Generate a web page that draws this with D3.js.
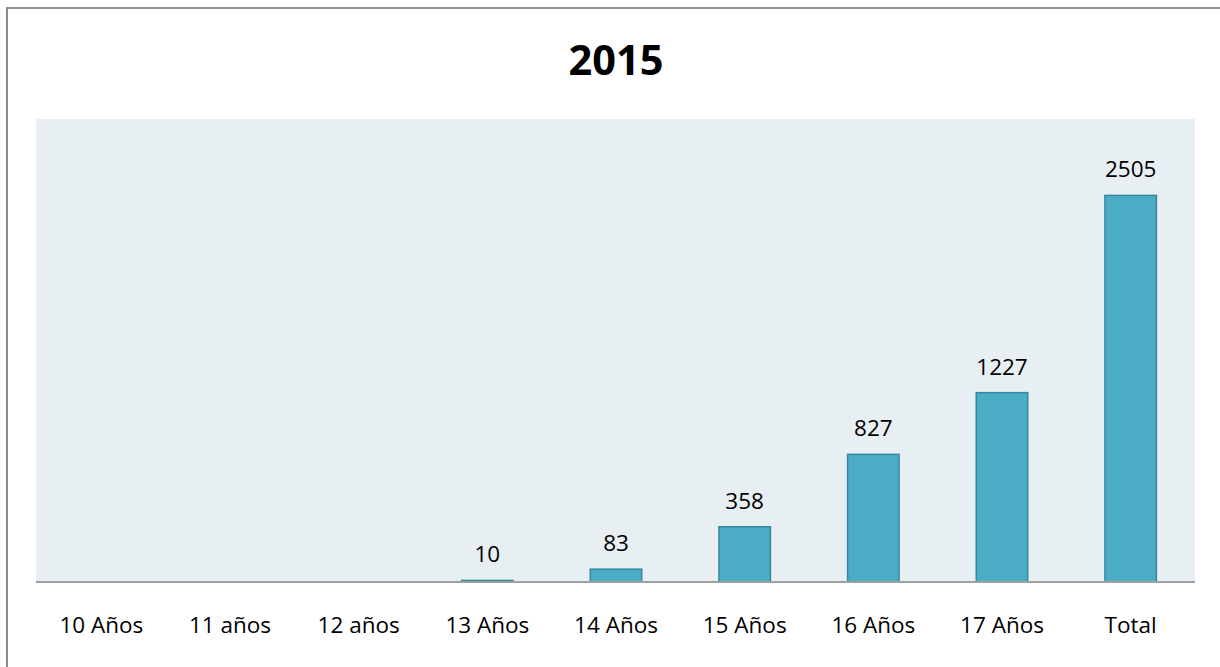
<!DOCTYPE html>
<html>
<head>
<meta charset="utf-8">
<script src="https://cdn.jsdelivr.net/npm/d3@7"></script>
<style>
  html, body { margin: 0; padding: 0; background: #fff; }
  svg { display: block; }
</style>
</head>
<body>
<svg id="chart" width="1220" height="667"></svg>
<script>
const categories = ["10 Años", "11 años", "12 años", "13 Años", "14 Años", "15 Años", "16 Años", "17 Años", "Total"];
const values = [null, null, null, 10, 83, 358, 827, 1227, 2505];
const title = "2015";
const yMax = 3000;

const svg = d3.select("#chart");
const font = "'Open Sans', 'Noto Sans', sans-serif";

// outer frame
svg.append("rect")
  .attr("x", 7).attr("y", 8)
  .attr("width", 1240).attr("height", 700)
  .attr("fill", "none")
  .attr("stroke", "#8c8c8c")
  .attr("stroke-width", 2);

const plot = { left: 36, right: 1195, top: 119, bottom: 582 };

svg.append("rect")
  .attr("x", plot.left).attr("y", plot.top)
  .attr("width", plot.right - plot.left)
  .attr("height", plot.bottom - plot.top)
  .attr("fill", "#E8EFF3");

const x = d3.scaleBand()
  .domain(categories)
  .range([plot.left + 1, plot.right])
  .paddingInner(0.6)
  .paddingOuter(0.3);

const y = d3.scaleLinear()
  .domain([0, yMax])
  .range([plot.bottom, plot.top]);

const data = categories.map((c, i) => ({ c, v: values[i] }));

svg.append("g").selectAll("rect")
  .data(data.filter(d => d.v != null))
  .join("rect")
  .attr("x", d => x(d.c))
  .attr("y", d => y(d.v))
  .attr("width", x.bandwidth())
  .attr("height", d => y(0) - y(d.v))
  .attr("fill", "#4BACC6")
  .attr("stroke", "#35879C")
  .attr("stroke-width", 1.5);

svg.append("g").selectAll("text")
  .data(data.filter(d => d.v != null))
  .join("text")
  .attr("x", d => x(d.c) + x.bandwidth() / 2)
  .attr("y", d => y(d.v) - 18)
  .attr("text-anchor", "middle")
  .attr("font-family", font)
  .attr("font-size", 22.5)
  .attr("fill", "#000")
  .text(d => d.v);

// x axis
const xAxis = svg.append("g")
  .attr("transform", `translate(0,${plot.bottom})`)
  .call(d3.axisBottom(x).tickSize(0).tickPadding(0));
xAxis.select(".domain").remove();
svg.append("line")
  .attr("x1", plot.left).attr("x2", plot.right)
  .attr("y1", plot.bottom).attr("y2", plot.bottom)
  .attr("stroke", "#A0A0A0")
  .attr("stroke-width", 2);
xAxis.selectAll("text")
  .attr("y", 51)
  .attr("dy", 0)
  .attr("font-family", font)
  .attr("font-size", 22.5)
  .attr("fill", "#000");

svg.append("text")
  .attr("x", 616).attr("y", 75)
  .attr("text-anchor", "middle")
  .attr("font-family", font)
  .attr("font-weight", "bold")
  .attr("font-size", 41.5)
  .attr("fill", "#000")
  .text(title);
</script>
</body>
</html>
